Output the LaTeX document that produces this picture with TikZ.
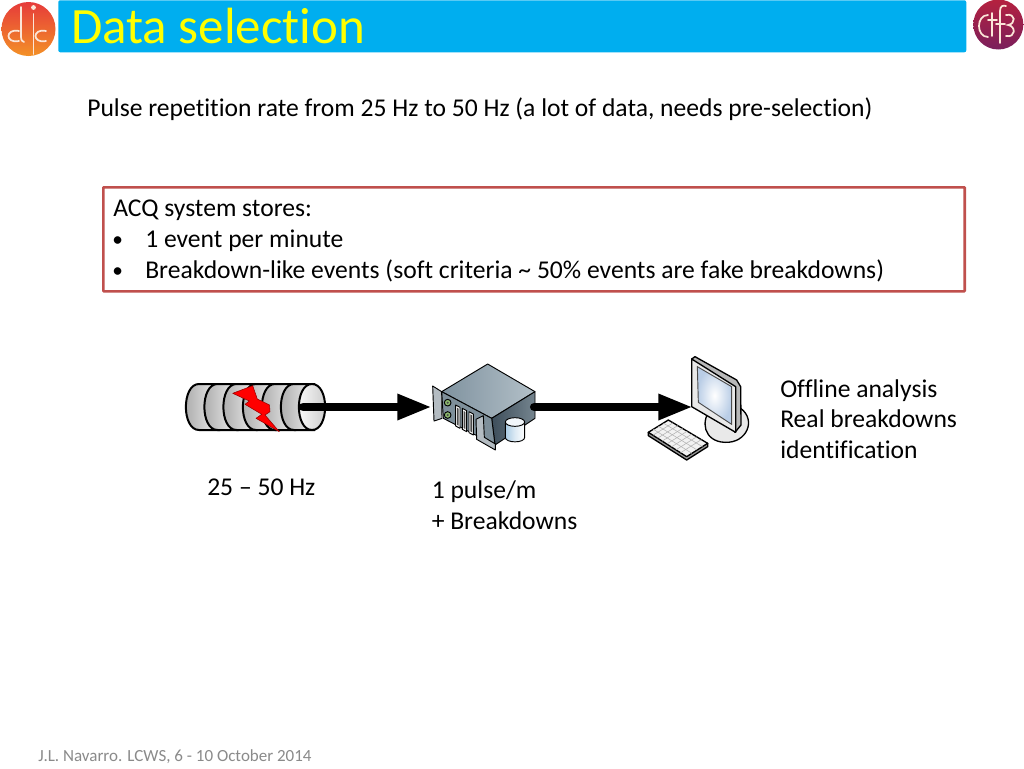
\documentclass[tikz,border=0pt]{standalone}
\usepackage{fontspec}
\setmainfont[Ligatures=NoCommon]{Carlito}
\usetikzlibrary{arrows.meta,calc}
\definecolor{barblue}{HTML}{00AEEF}
\definecolor{boxred}{HTML}{C0504D}
\definecolor{foot}{HTML}{8A8A8A}
\definecolor{srvtopa}{HTML}{7F929F}
\definecolor{srvtopb}{HTML}{B3C0C8}
\definecolor{srvsidea}{HTML}{3E4E5B}
\definecolor{srvsideb}{HTML}{75858F}
\definecolor{srvfront}{HTML}{7E8F9A}
\definecolor{earcol}{HTML}{B4BCC2}
\definecolor{ledgreen}{HTML}{8DBB6E}
\definecolor{cylblue}{HTML}{A9CBE4}
\definecolor{screenblue}{HTML}{B9CDE6}
\definecolor{bezel}{HTML}{E9E9E9}
\definecolor{clictop}{HTML}{E63B3A}
\definecolor{clicbot}{HTML}{F39127}
\definecolor{ctftop}{HTML}{B5213F}
\definecolor{ctfbot}{HTML}{7A1F5C}
\definecolor{logoink}{HTML}{FBE6D8}
\tikzset{
  x=0.75pt,y=-0.75pt,
  body/.style={font=\fontsize{19.2}{23}\selectfont,inner sep=0pt,anchor=north west,align=left,text=black},
  flow/.style={line width=6.5pt,line cap=round,-{Triangle[length=26pt,width=18pt]}},
  logoline/.style={draw=logoink,line width=1.3pt,line cap=round},
  segment/.style={draw=black,line width=1.5pt,left color=black!35,right color=black!6},
  edge3d/.style={draw=black,line width=0.7pt,line join=round},
  pin/.style={inner sep=0pt,minimum size=0pt},
}
\newcommand{\bulletmark}{\makebox[24pt][l]{\hspace*{-0.7pt}\fontsize{16}{16}\selectfont\raisebox{0.5pt}{•}}}
\begin{document}
\begin{tikzpicture}
\useasboundingbox (0,0) rectangle (1024,768);
\fill[white] (0,0) rectangle (1024,768);
% title bar
\node[fill=barblue,rounded corners=1.5pt,minimum width=681pt,minimum height=39pt,inner sep=0pt,anchor=north west] (bar) at (58,0) {};
\node[font=\fontsize{38.2}{42}\selectfont,text={rgb,255:red,255;green,255;blue,0},anchor=base west,inner sep=0pt] (title) at (71,43) {Data selection};
% CLIC logo
\shade[top color=clictop,bottom color=clicbot] (28.5,29) circle (27);
\draw[logoline] (21,7) -- (21,36) .. controls (21,40) and (22,42) .. (24,42);
\draw[logoline] (33.5,14) -- (33.5,54);
\fill[logoink] (33.5,7.5) circle (2.4);
\draw[logoline] (19,31) .. controls (5,28) and (5,44) .. (19,41);
\draw[logoline] (46,31) .. controls (32,28) and (32,44) .. (46,41);
% CTF3 logo
\shade[top color=ctftop,bottom color=ctfbot] (998.3,24.5) circle (25);
\draw[logoline] (988,15) .. controls (976,15) and (976,37) .. (988,37);
\draw[logoline] (992,13) -- (992,36) (988,20) -- (997,20);
\draw[logoline] (1000,43) -- (1000,11) .. controls (1000,6) and (1003,5) .. (1006,6) (996,24) -- (1005,24);
\draw[logoline] (1006,15) .. controls (1016,13) and (1016,24) .. (1008,25) .. controls (1016,26) and (1016,38) .. (1006,36);
% headline
\node[body] (head) at (87,97.5) {Pulse repetition rate from 25 Hz to 50 Hz (a lot of data, needs pre-selection)};
% ACQ box
\node[draw=boxred,line width=2pt,fill=white,minimum width=646pt,minimum height=78pt,inner sep=0pt,anchor=north west,rounded corners=0.5pt] (acqbox) at (102,186) {};
\node[body] (acq) at (113,200) {ACQ system stores:\\\bulletmark 1 event per minute\\\bulletmark Breakdown-like events (soft criteria \textasciitilde{} 50\% events are fake breakdowns)};
% tube
\foreach \c in {199,217.5,236.5,256,275,294}{
  \shade[segment] (\c,384) .. controls (\c-17.5,384) and (\c-17.5,430) .. (\c,430) -- (\c+20,430) -- (\c+20,384) -- cycle;
}
\shade[draw=black,line width=1.5pt,left color=white,right color=black!22] (312,384) .. controls (329.5,384) and (329.5,430) .. (312,430) .. controls (294.5,430) and (294.5,384) .. (312,384) -- cycle;
\node[pin] (tube) at (303,407) {};
\fill[red,draw=red!60!black,line width=0.4pt,line join=round] (232.7,393.3) -- (252.7,385.7) -- (257.3,399) -- (269.5,405) -- (270,411.7) -- (265,415) -- (279.3,431.7) -- (256,418.3) -- (261.7,414.3) -- (245,404.3) -- (249.3,401) -- cycle;
% server
\begin{scope}[shift={(420,350)},scale=1/3]
  \shade[edge3d,left color=srvtopa,right color=srvtopb] (65,125) -- (203,42) -- (345,125) -- (215,205) -- cycle;
  \shade[edge3d,left color=srvsidea,right color=srvsideb] (215,205) -- (345,125) -- (345,205) -- (225,285) -- cycle;
  \fill[edge3d,fill=srvfront] (65,125) -- (215,205) -- (225,285) -- (70,205) -- cycle;
  \fill[edge3d,fill=earcol] (38,108) -- (65,125) -- (66,205) -- (42,213) -- cycle;
  \foreach \yy in {158,195}{\fill[edge3d,fill=ledgreen] (83,\yy) circle (10);\fill[black!70] (83,\yy) circle (3.5);}
  \foreach \xx/\yy in {107/165,127/175,147/185}{
    \fill[edge3d,fill=white] (\xx,\yy) -- (\xx+13,\yy+7) -- (\xx+13,\yy+70) -- (\xx,\yy+63) -- cycle;
    \fill[black!70] (\xx+4,\yy+8) -- (\xx+9,\yy+11) -- (\xx+9,\yy+62) -- (\xx+4,\yy+59) -- cycle;
  }
  \fill[edge3d,fill=earcol] (168,208) -- (190,197) -- (193,262) -- (226,282) -- (226,300) -- (170,268) -- cycle;
  \shade[edge3d,left color=cylblue,right color=white,middle color=cylblue!40] (256,218) -- (256,262) .. controls (256,280) and (314,280) .. (314,262) -- (314,218) -- cycle;
  \fill[edge3d,fill=white!85!cylblue] (285,216) ellipse [x radius=29,y radius=13];
\end{scope}
\coordinate (srvin) at (432,407);
\node[pin] (srvout) at (534,407) {};
% monitor
\begin{scope}[shift={(640,345)},scale=1/3]
  \fill[edge3d,fill=bezel,line width=1pt] (215,190) .. controls (180,225) and (190,290) .. (255,292) .. controls (320,295) and (350,225) .. (302,190) -- cycle;
  \fill[edge3d,fill=black!28,line width=1pt] (155,42) -- (165,35) -- (290,105) -- (302,125) -- (303,240) -- (285,262) -- cycle;
  \fill[edge3d,fill=bezel,line width=1pt] (155,42) -- (287,125) -- (287,262) -- (155,185) -- cycle;
  \shade[inner color=white,outer color=screenblue,draw=black!70,line width=0.7pt] (172,65) -- (275,125) -- (275,238) -- (175,172) -- cycle;
  \fill[edge3d,fill=black!40,line width=1pt] (25,262) -- (25,272) -- (140,345) -- (203,305) -- (203,295) -- cycle;
  \fill[edge3d,fill=black!5,line width=1pt] (25,262) -- (85,225) -- (203,295) -- (140,335) -- cycle;
  \coordinate (ka) at (25,262); \coordinate (kb) at (85,225); \coordinate (kc) at (203,295); \coordinate (kd) at (140,335);
  \foreach \t in {0.12,0.24,0.36,0.48,0.6,0.72,0.84}{\draw[black!30,line width=0.4pt] ($(ka)!\t!(kd)$) -- ($(kb)!\t!(kc)$);}
  \foreach \t in {0.25,0.5,0.75}{\draw[black!30,line width=0.4pt] ($(ka)!\t!(kb)$) -- ($(kd)!\t!(kc)$);}
\end{scope}
\coordinate (monin) at (693,407);
\draw[flow] (tube) -- (srvin);
\draw[flow] (srvout) -- (monin);
% labels
\node[body] (rate) at (207,479) {25 – 50 Hz};
\node[body] (pulse) at (431.5,480.5) {1 pulse/m\\+ Breakdowns};
\node[body] (offline) at (780,379) {Offline analysis\\Real breakdowns\\identification};
% footer
\node[font=\fontsize{12.75}{14}\selectfont,text=foot,inner sep=0pt,anchor=base west] (footer) at (38,761) {J.L. Navarro. LCWS, 6 - 10 October 2014};
\end{tikzpicture}
\end{document}
